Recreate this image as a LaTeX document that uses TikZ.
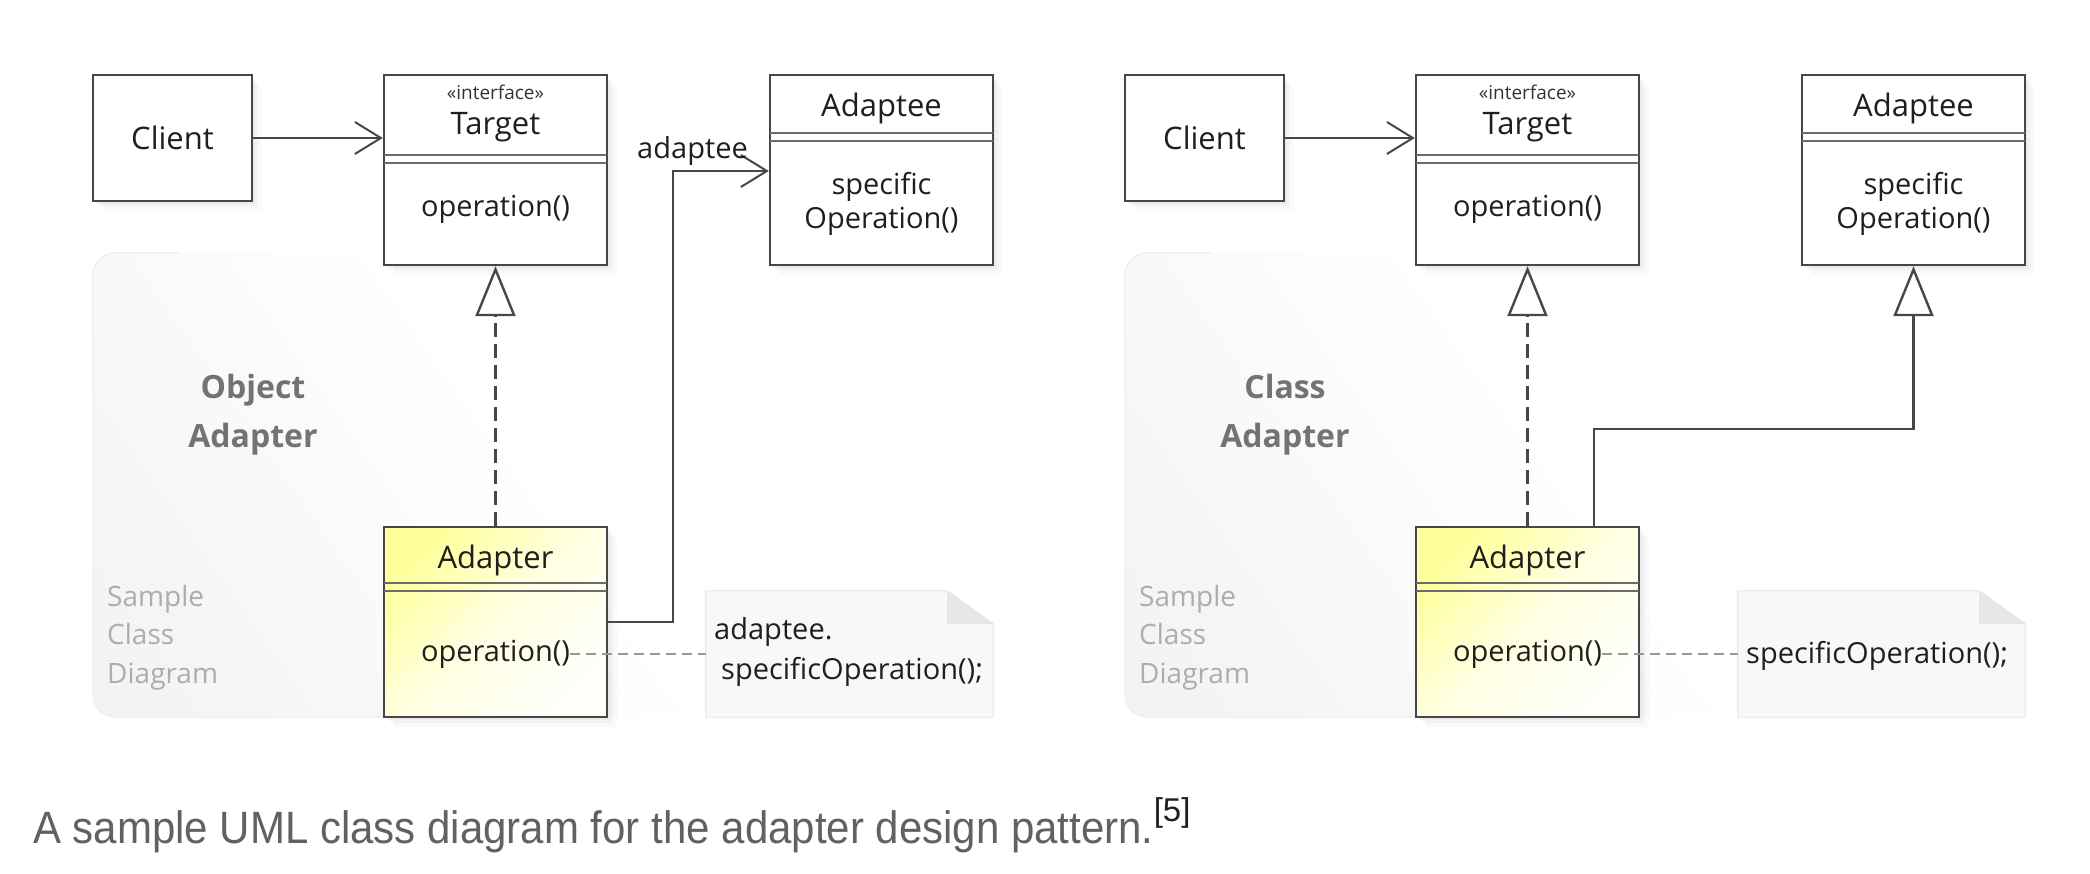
\documentclass[tikz,border=0pt]{standalone}
\usepackage{fontspec}
\setmainfont{Open Sans}
\newfontfamily\capfont{Liberation Sans}
\usetikzlibrary{arrows.meta, shadows}

\definecolor{umlline}{HTML}{474747}
\definecolor{adapterhi}{HTML}{FFFF9C}
\definecolor{adaptermid}{HTML}{FFFFE2}
\definecolor{adapterlo}{HTML}{FFFFFB}
\definecolor{notefill}{HTML}{F8F8F8}
\definecolor{noteedge}{HTML}{EBEBEB}
\definecolor{notefold}{HTML}{E6E6E6}
\definecolor{panelgray}{HTML}{EFEFEF}
\pgfdeclareverticalshading{panelfade}{100bp}{color(0bp)=(panelgray); color(25bp)=(panelgray!60!white);
  color(50bp)=(white); color(100bp)=(white)}

\begin{document}
\begin{tikzpicture}[
    x=1pt, y=-1pt,
    cls/.style={
      draw=umlline,
      line width=2.4pt,
      fill=white,
      inner sep=0pt,
      minimum width=223pt,
      minimum height=190pt,
      drop shadow={opacity=0.07, shadow xshift=3pt, shadow yshift=-3pt},
      drop shadow={opacity=0.06, shadow xshift=6pt, shadow yshift=-6pt},
      drop shadow={opacity=0.04, shadow xshift=10pt, shadow yshift=-10pt}
    },
    clientbox/.style={cls, minimum width=159pt, minimum height=126pt,
      text=black!88, font=\fontsize{31}{36}\selectfont},
    adapterbox/.style={cls, top color=adapterhi, bottom color=adapterlo,
      middle color=adaptermid, shading angle=45},
    notebox/.style={inner sep=0pt, minimum width=287pt, minimum height=126pt},
    divider/.style={draw=umlline!80, line width=1.4pt},
    cname/.style={inner sep=0pt, text=black!88, font=\fontsize{31}{36}\selectfont},
    member/.style={inner sep=0pt, text=black!88, align=center,
      font=\fontsize{29}{34}\selectfont},
    notetext/.style={member, align=left, font=\fontsize{29}{40}\selectfont},
    stereo/.style={inner sep=0pt, text=black!80, font=\fontsize{19}{22}\selectfont},
    assoc/.style={draw=umlline, line width=2.4pt,
      -{Straight Barb[length=26pt, width=32pt, line width=2pt]}},
    realize/.style={draw=umlline, line width=2.4pt, dash pattern=on 14pt off 7pt,
      -{Triangle[fill=white, length=50pt, width=40pt]}},
    general/.style={draw=umlline, line width=2.4pt,
      -{Triangle[fill=white, length=50pt, width=40pt]}},
    noteline/.style={draw=black!40, line width=1.4pt, dash pattern=on 10pt off 6pt},
    kind/.style={inner sep=0pt, text=black!55, align=center,
      font=\bfseries\fontsize{32}{49}\selectfont},
    sample/.style={inner sep=0pt, text=black!32, align=left,
      font=\fontsize{28}{38.5}\selectfont},
    panel/.style={rounded corners=22pt, shading=panelfade, shading angle=-55},
    paneledge/.style={draw=black!6, line width=1.5pt, rounded corners=22pt}
  ]
  \useasboundingbox (0,0) rectangle (2090,874);

  % object adapter
  \shade[panel] (93,253) rectangle (1000,717);
  \draw[paneledge] (180,253) -- (93,253) -- (93,717) -- (420,717);
  \node[kind] (okind) at (253,415) {Object\\Adapter};
  \node[sample, anchor=north west] (osample) at (107,585) {Sample\\Class\\Diagram};

  \node[clientbox] (oclient) at (172.5,138) {\raisebox{-2pt}{Client}};

  \node[cls] (otarget) at (495.5,170) {};
  \node[stereo] (otgtst) at (495.5,92) {«interface»};
  \node[cname] (otgtname) at (495.5,127) {Target};
  \draw[divider] (384,155) -- (607,155) (384,163) -- (607,163);
  \node[member] (otgtop) at (495.5,209) {operation()};

  \node[cls] (oadaptee) at (881.5,170) {};
  \node[cname] (oadname) at (881.5,108) {Adaptee};
  \draw[divider] (770,133) -- (993,133) (770,141) -- (993,141);
  \node[member] (oadop) at (881.5,204) {specific\\Operation()};

  \node[adapterbox] (oadapter) at (495.5,622) {};
  \node[cname] (oadtname) at (495.5,560) {Adapter};
  \draw[divider] (384,583) -- (607,583) (384,591) -- (607,591);
  \node[member] (oadtop) at (495.5,654) {operation()};

  \node[notebox] (onote) at (849.5,654) {};
  \filldraw[fill=notefill, draw=noteedge, line width=1.2pt] (onote.south west) -- (onote.north west)
    -- ([xshift=-46pt]onote.north east) -- ([yshift=-33pt]onote.north east) -- (onote.south east) -- cycle;
  \fill[notefold] ([xshift=-46pt]onote.north east) -- ([xshift=-46pt, yshift=-33pt]onote.north east)
    -- ([yshift=-33pt]onote.north east) -- cycle;
  \node[notetext, anchor=west] (onotetxt) at (714,652) {adaptee.\\\hspace*{7pt}specificOperation();};

  \draw[noteline] (oadtop.east) -- (oadtop.east -| onote.west);
  \draw[assoc] (oclient.east) -- (oclient.east -| otarget.west);
  \coordinate (obend) at (673,171);
  \draw[assoc] (oadapter.east) -| (obend) -- (obend -| oadaptee.west);
  \node[member, anchor=base east] (orole) at (748,159) {adaptee};
  \draw[realize] (oadapter.north) -- (otarget.south);

  % class adapter
  \begin{scope}[xshift=1032pt]
  \shade[panel] (93,253) rectangle (1000,717);
  \draw[paneledge] (180,253) -- (93,253) -- (93,717) -- (420,717);
  \node[kind] (ckind) at (253,415) {Class\\Adapter};
  \node[sample, anchor=north west] (csample) at (107,585) {Sample\\Class\\Diagram};

  \node[clientbox] (cclient) at (172.5,138) {\raisebox{-2pt}{Client}};

  \node[cls] (ctarget) at (495.5,170) {};
  \node[stereo] (ctgtst) at (495.5,92) {«interface»};
  \node[cname] (ctgtname) at (495.5,127) {Target};
  \draw[divider] (384,155) -- (607,155) (384,163) -- (607,163);
  \node[member] (ctgtop) at (495.5,209) {operation()};

  \node[cls] (cadaptee) at (881.5,170) {};
  \node[cname] (cadname) at (881.5,108) {Adaptee};
  \draw[divider] (770,133) -- (993,133) (770,141) -- (993,141);
  \node[member] (cadop) at (881.5,204) {specific\\Operation()};

  \node[adapterbox] (cadapter) at (495.5,622) {};
  \node[cname] (cadtname) at (495.5,560) {Adapter};
  \draw[divider] (384,583) -- (607,583) (384,591) -- (607,591);
  \node[member] (cadtop) at (495.5,654) {operation()};

  \node[notebox] (cnote) at (849.5,654) {};
  \filldraw[fill=notefill, draw=noteedge, line width=1.2pt] (cnote.south west) -- (cnote.north west)
    -- ([xshift=-46pt]cnote.north east) -- ([yshift=-33pt]cnote.north east) -- (cnote.south east) -- cycle;
  \fill[notefold] ([xshift=-46pt]cnote.north east) -- ([xshift=-46pt, yshift=-33pt]cnote.north east)
    -- ([yshift=-33pt]cnote.north east) -- cycle;
  \node[notetext, anchor=west] (cnotetxt) at (714,656) {specificOperation();};

  \draw[noteline] (cadtop.east) -- (cadtop.east -| cnote.west);
  \draw[assoc] (cclient.east) -- (cclient.east -| ctarget.west);
  \draw[realize] (cadapter.north) -- (ctarget.south);
  \coordinate (cbend) at (562,429);
  \draw[general] (cadapter.north -| cbend) -- (cbend) -| (cadaptee.south);
  \end{scope}

  \node[anchor=base west, inner sep=0pt, text=black!62, font=\capfont\fontsize{42}{50}\selectfont]
    (caption) at (33,843) {\scalebox{1}[1.08]{A sample UML class diagram for the adapter design pattern.}\raisebox{22pt}{\fontsize{33}{36}\selectfont\color{black!88}[5]}};
\end{tikzpicture}
\end{document}
